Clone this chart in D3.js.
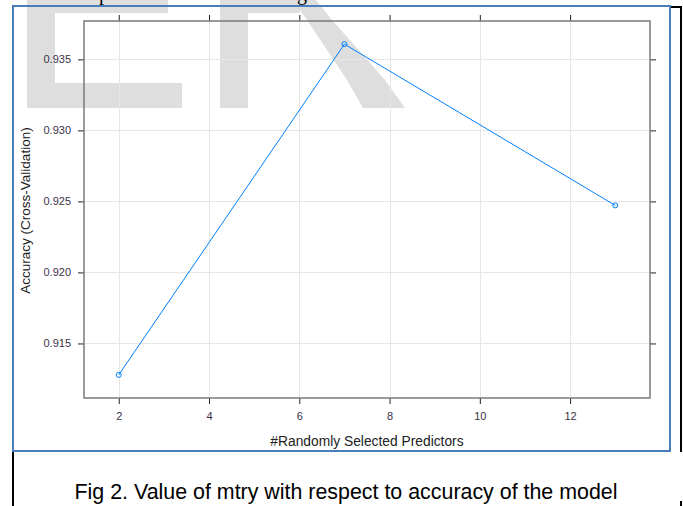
<!DOCTYPE html>
<html>
<head>
<meta charset="utf-8">
<script src="https://cdn.jsdelivr.net/npm/d3@7"></script>
<style>
  html, body { margin: 0; padding: 0; background: #fff; }
  svg { display: block; }
</style>
</head>
<body>
<svg id="fig" width="683" height="506"></svg>
<script>
// Tuning results: cross-validated accuracy for each mtry value
const mtry = [2, 7, 13];
const accuracy = [0.91279, 0.93607, 0.92472];
const xTicks = [2, 4, 6, 8, 10, 12];
const yTicks = [0.915, 0.920, 0.925, 0.930, 0.935];
const xTitle = "#Randomly Selected Predictors";
const yTitle = "Accuracy (Cross-Validation)";
const caption = "Fig 2. Value of mtry with respect to accuracy of the model";

const svg = d3.select("#fig");
const sans = "'Liberation Sans', Arial, sans-serif";

// page background
svg.append("rect").attr("width", 683).attr("height", 506).attr("fill", "#fff");

// faint letters printed behind the figure
const wm = svg.append("g").attr("fill", "#dedede");
wm.append("rect").attr("x", 27).attr("y", 0).attr("width", 28).attr("height", 108);
wm.append("rect").attr("x", 27).attr("y", 0).attr("width", 141).attr("height", 13);
wm.append("rect").attr("x", 27).attr("y", 83).attr("width", 155).attr("height", 25);
wm.append("rect").attr("x", 220).attr("y", 0).attr("width", 28).attr("height", 108);
wm.append("rect").attr("x", 220).attr("y", 0).attr("width", 80).attr("height", 13);
wm.append("path").attr("d", "M293,0 L316,0 L332,20 L385,80 L405,108 L363,108 L347,80 L307,20 Z");

// descenders of the line of body text above the figure
svg.append("text").attr("x", 99).attr("y", 0).attr("font-family", "'Liberation Serif', 'Times New Roman', serif")
  .attr("font-size", 20).attr("fill", "#000").text("p");
svg.append("text").attr("x", 297).attr("y", 0).attr("font-family", "'Liberation Serif', 'Times New Roman', serif")
  .attr("font-size", 20).attr("fill", "#000").text("g");

// table cell borders
const cell = svg.append("g").attr("stroke", "#000").attr("stroke-width", 2).attr("fill", "none");
cell.append("line").attr("x1", 13).attr("x2", 13).attr("y1", 6).attr("y2", 506);
cell.append("line").attr("x1", 681).attr("x2", 681).attr("y1", 7).attr("y2", 452);
cell.append("line").attr("x1", 671).attr("x2", 682).attr("y1", 7).attr("y2", 7);
cell.append("line").attr("x1", 681).attr("x2", 681).attr("y1", 501).attr("y2", 506);

// panel geometry
const panel = { left: 84, right: 650, top: 21, bottom: 398 };

// numeric axes padded by 7% of the data range
const pad = (ext) => { const d = (ext[1] - ext[0]) * 0.07; return [ext[0] - d, ext[1] + d]; };
const x = d3.scaleLinear().domain(pad(d3.extent(mtry))).range([panel.left, panel.right]);
const y = d3.scaleLinear().domain(pad(d3.extent(accuracy))).range([panel.bottom, panel.top]);

// grid
const grid = svg.append("g").attr("stroke", "#e6e6e6").attr("stroke-width", 1);
grid.selectAll(".gx").data(xTicks).join("line")
  .attr("x1", d => Math.round(x(d)) + 0.5).attr("x2", d => Math.round(x(d)) + 0.5)
  .attr("y1", panel.top).attr("y2", panel.bottom);
grid.selectAll(".gy").data(yTicks).join("line")
  .attr("y1", d => Math.round(y(d)) + 0.5).attr("y2", d => Math.round(y(d)) + 0.5)
  .attr("x1", panel.left).attr("x2", panel.right);

// axes with ticks on all four sides, labels on left and bottom
function styleAxis(g) {
  g.select(".domain").remove();
  g.selectAll(".tick line").attr("stroke", "#222");
  g.selectAll(".tick text").attr("font-family", sans).attr("font-size", 11).attr("fill", "#3a3146");
}
svg.append("g").attr("transform", `translate(0,${panel.bottom})`)
  .call(d3.axisBottom(x).tickValues(xTicks).tickSize(6).tickPadding(8).tickFormat(d3.format("d")))
  .call(styleAxis);
svg.append("g").attr("transform", `translate(0,${panel.top})`)
  .call(d3.axisTop(x).tickValues(xTicks).tickSize(6).tickFormat(""))
  .call(styleAxis);
svg.append("g").attr("transform", `translate(${panel.left},0)`)
  .call(d3.axisLeft(y).tickValues(yTicks).tickSize(6).tickPadding(7).tickFormat(d3.format(".3f")))
  .call(styleAxis);
svg.append("g").attr("transform", `translate(${panel.right},0)`)
  .call(d3.axisRight(y).tickValues(yTicks).tickSize(6).tickFormat(""))
  .call(styleAxis);

// panel frame
svg.append("rect")
  .attr("x", panel.left).attr("y", panel.top)
  .attr("width", panel.right - panel.left).attr("height", panel.bottom - panel.top)
  .attr("fill", "none").attr("stroke", "#7a7a7a").attr("stroke-width", 1.5);

// accuracy line and points
const pts = mtry.map((m, i) => [m, accuracy[i]]);
svg.append("path").datum(pts)
  .attr("d", d3.line().x(d => x(d[0])).y(d => y(d[1])))
  .attr("fill", "none").attr("stroke", "#0080ff").attr("stroke-width", 1);
svg.selectAll(".pt").data(pts).join("circle")
  .attr("cx", d => x(d[0])).attr("cy", d => y(d[1])).attr("r", 2.5)
  .attr("fill", "none").attr("stroke", "#0080ff").attr("stroke-width", 1);

// axis titles
svg.append("text").attr("x", (panel.left + panel.right) / 2).attr("y", 446)
  .attr("text-anchor", "middle").attr("font-family", sans).attr("font-size", 13.8)
  .attr("fill", "#222").text(xTitle);
svg.append("text").attr("transform", `translate(30,${(panel.top + panel.bottom) / 2 + 1}) rotate(-90)`)
  .attr("text-anchor", "middle").attr("font-family", sans).attr("font-size", 13.5)
  .attr("fill", "#222").text(yTitle);

// picture frame
svg.append("rect").attr("x", 13).attr("y", 6).attr("width", 657).attr("height", 445)
  .attr("fill", "none").attr("stroke", "#4a7ebb").attr("stroke-width", 2);

// caption
svg.append("text").attr("x", 346).attr("y", 499).attr("text-anchor", "middle")
  .attr("font-family", sans).attr("font-size", 21.4).attr("fill", "#000").text(caption);
</script>
</body>
</html>
